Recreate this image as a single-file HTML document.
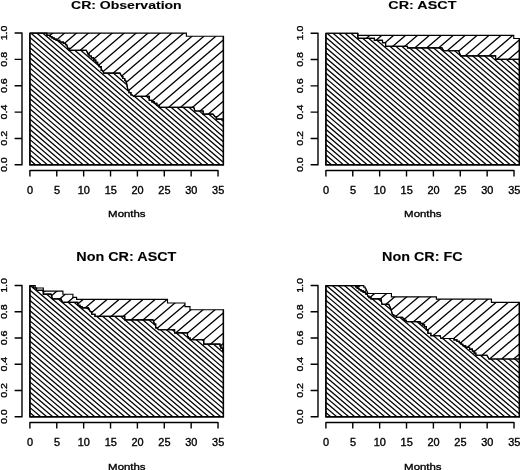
<!DOCTYPE html>
<html><head><meta charset="utf-8"><title>chart</title>
<style>html,body{margin:0;padding:0;background:#fff;}svg{display:block;filter:grayscale(1) blur(0.35px);}text{font-family:"Liberation Sans",sans-serif;fill:#000;stroke:#000;stroke-width:0.35px;vector-effect:non-scaling-stroke;}</style></head>
<body>
<svg width="520" height="470" viewBox="0 0 520 470">
<rect width="520" height="470" fill="#fff"/>
<defs><clipPath id="cl1"><polygon points="29.90,33.05 44.75,33.05 46.88,33.05 46.88,35.30 49.00,35.30 49.98,35.30 49.98,36.55 51.92,36.55 51.92,37.80 52.90,37.80 53.99,37.80 53.99,39.05 56.16,39.05 56.16,40.30 57.25,40.30 59.75,40.30 59.75,42.15 62.25,42.15 63.34,42.15 63.34,43.40 65.51,43.40 65.51,44.65 66.60,44.65 67.90,48.40 69.15,48.40 69.15,50.30 70.40,50.30 86.40,50.30 88.00,54.15 89.12,54.15 89.12,56.02 91.38,56.02 91.38,57.90 92.50,57.90 93.60,57.90 93.60,60.10 95.80,60.10 95.80,62.30 96.90,62.30 97.68,62.30 97.68,64.48 99.22,64.48 99.22,66.65 100.00,66.65 101.25,66.65 101.25,70.40 102.50,70.40 103.75,73.15 120.00,73.15 121.90,76.65 122.83,76.65 122.83,78.53 124.67,78.53 124.67,80.40 125.60,80.40 126.60,83.40 128.00,90.40 128.97,90.40 128.97,92.60 130.93,92.60 130.93,94.80 131.90,94.80 133.75,96.40 148.00,96.40 149.30,96.40 149.30,100.40 150.60,100.40 151.85,100.40 151.85,101.90 154.35,101.90 154.35,103.40 155.60,103.40 156.85,103.40 156.85,105.35 159.35,105.35 159.35,107.30 160.60,107.30 193.75,107.30 195.00,111.00 201.90,111.00 203.15,111.00 203.15,114.15 204.40,114.15 213.00,114.15 215.00,116.65 216.25,116.65 216.25,119.15 217.50,119.15 223.40,119.15 223.40,164.80 29.90,164.80"/></clipPath><clipPath id="cu1"><polygon points="29.90,33.05 186.40,33.05 186.40,36.20 223.40,36.20 223.40,119.15 217.50,119.15 216.25,119.15 216.25,116.65 215.00,116.65 213.00,114.15 204.40,114.15 203.15,114.15 203.15,111.00 201.90,111.00 195.00,111.00 193.75,107.30 160.60,107.30 159.35,107.30 159.35,105.35 156.85,105.35 156.85,103.40 155.60,103.40 154.35,103.40 154.35,101.90 151.85,101.90 151.85,100.40 150.60,100.40 149.30,100.40 149.30,96.40 148.00,96.40 133.75,96.40 131.90,94.80 130.93,94.80 130.93,92.60 128.97,92.60 128.97,90.40 128.00,90.40 126.60,83.40 125.60,80.40 124.67,80.40 124.67,78.53 122.83,78.53 122.83,76.65 121.90,76.65 120.00,73.15 103.75,73.15 102.50,70.40 101.25,70.40 101.25,66.65 100.00,66.65 99.22,66.65 99.22,64.48 97.68,64.48 97.68,62.30 96.90,62.30 95.80,62.30 95.80,60.10 93.60,60.10 93.60,57.90 92.50,57.90 91.38,57.90 91.38,56.02 89.12,56.02 89.12,54.15 88.00,54.15 86.40,50.30 70.40,50.30 69.15,50.30 69.15,48.40 67.90,48.40 66.60,44.65 65.51,44.65 65.51,43.40 63.34,43.40 63.34,42.15 62.25,42.15 59.75,42.15 59.75,40.30 57.25,40.30 56.16,40.30 56.16,39.05 53.99,39.05 53.99,37.80 52.90,37.80 51.92,37.80 51.92,36.55 49.98,36.55 49.98,35.30 49.00,35.30 46.88,35.30 46.88,33.05 44.75,33.05 29.90,33.05"/></clipPath></defs>
<path clip-path="url(#cl1)" d="M27.90 -143.06L225.40 26.20M27.90 -137.95L225.40 31.30M27.90 -132.85L225.40 36.41M27.90 -127.74L225.40 41.52M27.90 -122.63L225.40 46.62M27.90 -117.53L225.40 51.73M27.90 -112.42L225.40 56.84M27.90 -107.31L225.40 61.95M27.90 -102.20L225.40 67.05M27.90 -97.10L225.40 72.16M27.90 -91.99L225.40 77.27M27.90 -86.88L225.40 82.37M27.90 -81.78L225.40 87.48M27.90 -76.67L225.40 92.59M27.90 -71.56L225.40 97.69M27.90 -66.46L225.40 102.80M27.90 -61.35L225.40 107.91M27.90 -56.24L225.40 113.02M27.90 -51.13L225.40 118.12M27.90 -46.03L225.40 123.23M27.90 -40.92L225.40 128.34M27.90 -35.81L225.40 133.44M27.90 -30.71L225.40 138.55M27.90 -25.60L225.40 143.66M27.90 -20.49L225.40 148.76M27.90 -15.39L225.40 153.87M27.90 -10.28L225.40 158.98M27.90 -5.17L225.40 164.09M27.90 -0.06L225.40 169.19M27.90 5.04L225.40 174.30M27.90 10.15L225.40 179.41M27.90 15.26L225.40 184.51M27.90 20.36L225.40 189.62M27.90 25.47L225.40 194.73M27.90 30.58L225.40 199.83M27.90 35.68L225.40 204.94M27.90 40.79L225.40 210.05M27.90 45.90L225.40 215.16M27.90 51.01L225.40 220.26M27.90 56.11L225.40 225.37M27.90 61.22L225.40 230.48M27.90 66.33L225.40 235.58M27.90 71.43L225.40 240.69M27.90 76.54L225.40 245.80M27.90 81.65L225.40 250.90M27.90 86.75L225.40 256.01M27.90 91.86L225.40 261.12M27.90 96.97L225.40 266.23M27.90 102.08L225.40 271.33M27.90 107.18L225.40 276.44M27.90 112.29L225.40 281.55M27.90 117.40L225.40 286.65M27.90 122.50L225.40 291.76M27.90 127.61L225.40 296.87M27.90 132.72L225.40 301.97M27.90 137.82L225.40 307.08M27.90 142.93L225.40 312.19M27.90 148.04L225.40 317.30M27.90 153.15L225.40 322.40M27.90 158.25L225.40 327.51M27.90 163.36L225.40 332.62M27.90 168.47L225.40 337.72" stroke="#000" stroke-width="1.28" fill="none"/>
<path clip-path="url(#cu1)" d="M27.90 23.66L225.40 -145.60M27.90 33.87L225.40 -135.39M27.90 44.08L225.40 -125.17M27.90 54.30L225.40 -114.96M27.90 64.51L225.40 -104.75M27.90 74.73L225.40 -94.53M27.90 84.94L225.40 -84.32M27.90 95.15L225.40 -74.10M27.90 105.37L225.40 -63.89M27.90 115.58L225.40 -53.68M27.90 125.80L225.40 -43.46M27.90 136.01L225.40 -33.25M27.90 146.22L225.40 -23.03M27.90 156.44L225.40 -12.82M27.90 166.65L225.40 -2.61M27.90 176.87L225.40 7.61M27.90 187.08L225.40 17.82M27.90 197.29L225.40 28.04M27.90 207.51L225.40 38.25M27.90 217.72L225.40 48.46M27.90 227.94L225.40 58.68M27.90 238.15L225.40 68.89M27.90 248.36L225.40 79.11M27.90 258.58L225.40 89.32M27.90 268.79L225.40 99.53M27.90 279.01L225.40 109.75M27.90 289.22L225.40 119.96M27.90 299.43L225.40 130.18M27.90 309.65L225.40 140.39M27.90 319.86L225.40 150.60M27.90 330.08L225.40 160.82" stroke="#000" stroke-width="1.30" fill="none"/>
<polygon points="29.90,33.05 44.75,33.05 46.88,33.05 46.88,35.30 49.00,35.30 49.98,35.30 49.98,36.55 51.92,36.55 51.92,37.80 52.90,37.80 53.99,37.80 53.99,39.05 56.16,39.05 56.16,40.30 57.25,40.30 59.75,40.30 59.75,42.15 62.25,42.15 63.34,42.15 63.34,43.40 65.51,43.40 65.51,44.65 66.60,44.65 67.90,48.40 69.15,48.40 69.15,50.30 70.40,50.30 86.40,50.30 88.00,54.15 89.12,54.15 89.12,56.02 91.38,56.02 91.38,57.90 92.50,57.90 93.60,57.90 93.60,60.10 95.80,60.10 95.80,62.30 96.90,62.30 97.68,62.30 97.68,64.48 99.22,64.48 99.22,66.65 100.00,66.65 101.25,66.65 101.25,70.40 102.50,70.40 103.75,73.15 120.00,73.15 121.90,76.65 122.83,76.65 122.83,78.53 124.67,78.53 124.67,80.40 125.60,80.40 126.60,83.40 128.00,90.40 128.97,90.40 128.97,92.60 130.93,92.60 130.93,94.80 131.90,94.80 133.75,96.40 148.00,96.40 149.30,96.40 149.30,100.40 150.60,100.40 151.85,100.40 151.85,101.90 154.35,101.90 154.35,103.40 155.60,103.40 156.85,103.40 156.85,105.35 159.35,105.35 159.35,107.30 160.60,107.30 193.75,107.30 195.00,111.00 201.90,111.00 203.15,111.00 203.15,114.15 204.40,114.15 213.00,114.15 215.00,116.65 216.25,116.65 216.25,119.15 217.50,119.15 223.40,119.15 223.40,164.80 29.90,164.80" fill="none" stroke="#000" stroke-width="1.15" stroke-linejoin="miter"/>
<polygon points="29.90,33.05 186.40,33.05 186.40,36.20 223.40,36.20 223.40,119.15 217.50,119.15 216.25,119.15 216.25,116.65 215.00,116.65 213.00,114.15 204.40,114.15 203.15,114.15 203.15,111.00 201.90,111.00 195.00,111.00 193.75,107.30 160.60,107.30 159.35,107.30 159.35,105.35 156.85,105.35 156.85,103.40 155.60,103.40 154.35,103.40 154.35,101.90 151.85,101.90 151.85,100.40 150.60,100.40 149.30,100.40 149.30,96.40 148.00,96.40 133.75,96.40 131.90,94.80 130.93,94.80 130.93,92.60 128.97,92.60 128.97,90.40 128.00,90.40 126.60,83.40 125.60,80.40 124.67,80.40 124.67,78.53 122.83,78.53 122.83,76.65 121.90,76.65 120.00,73.15 103.75,73.15 102.50,70.40 101.25,70.40 101.25,66.65 100.00,66.65 99.22,66.65 99.22,64.48 97.68,64.48 97.68,62.30 96.90,62.30 95.80,62.30 95.80,60.10 93.60,60.10 93.60,57.90 92.50,57.90 91.38,57.90 91.38,56.02 89.12,56.02 89.12,54.15 88.00,54.15 86.40,50.30 70.40,50.30 69.15,50.30 69.15,48.40 67.90,48.40 66.60,44.65 65.51,44.65 65.51,43.40 63.34,43.40 63.34,42.15 62.25,42.15 59.75,42.15 59.75,40.30 57.25,40.30 56.16,40.30 56.16,39.05 53.99,39.05 53.99,37.80 52.90,37.80 51.92,37.80 51.92,36.55 49.98,36.55 49.98,35.30 49.00,35.30 46.88,35.30 46.88,33.05 44.75,33.05 29.90,33.05" fill="none" stroke="#000" stroke-width="1.15" stroke-linejoin="miter"/>
<path d="M29.90 33.05V164.80H223.40V36.20" fill="none" stroke="#000" stroke-width="1.45"/>
<path d="M22.00 33.05V164.80M22.55 164.80H14.60M22.55 138.45H14.60M22.55 112.10H14.60M22.55 85.75H14.60M22.55 59.40H14.60M22.55 33.05H14.60M29.90 170.45H218.03M29.90 169.90V176.45M56.77 169.90V176.45M83.65 169.90V176.45M110.53 169.90V176.45M137.40 169.90V176.45M164.28 169.90V176.45M191.15 169.90V176.45M218.03 169.90V176.45" stroke="#000" stroke-width="1.4" fill="none"/>
<text transform="translate(7.20 164.70) rotate(-90) scale(1.11 1)" font-size="9.6" text-anchor="middle">0.0</text>
<text transform="translate(7.20 138.35) rotate(-90) scale(1.11 1)" font-size="9.6" text-anchor="middle">0.2</text>
<text transform="translate(7.20 112.00) rotate(-90) scale(1.11 1)" font-size="9.6" text-anchor="middle">0.4</text>
<text transform="translate(7.20 85.65) rotate(-90) scale(1.11 1)" font-size="9.6" text-anchor="middle">0.6</text>
<text transform="translate(7.20 59.30) rotate(-90) scale(1.11 1)" font-size="9.6" text-anchor="middle">0.8</text>
<text transform="translate(7.20 32.95) rotate(-90) scale(1.11 1)" font-size="9.6" text-anchor="middle">1.0</text>
<text transform="translate(30.10 193.55) scale(1.075 1)" font-size="10.2" text-anchor="middle">0</text>
<text transform="translate(56.98 193.55) scale(1.075 1)" font-size="10.2" text-anchor="middle">5</text>
<text transform="translate(83.85 193.55) scale(1.075 1)" font-size="10.2" text-anchor="middle">10</text>
<text transform="translate(110.73 193.55) scale(1.075 1)" font-size="10.2" text-anchor="middle">15</text>
<text transform="translate(137.60 193.55) scale(1.075 1)" font-size="10.2" text-anchor="middle">20</text>
<text transform="translate(164.47 193.55) scale(1.075 1)" font-size="10.2" text-anchor="middle">25</text>
<text transform="translate(191.35 193.55) scale(1.075 1)" font-size="10.2" text-anchor="middle">30</text>
<text transform="translate(218.22 193.55) scale(1.075 1)" font-size="10.2" text-anchor="middle">35</text>
<text transform="translate(126.85 217.45) scale(1.19 1)" font-size="9.6" text-anchor="middle">Months</text>
<text transform="translate(126.35 8.70) scale(1.200 1)" font-size="11.7" font-weight="bold" style="stroke-width:0.12px" text-anchor="middle">CR: Observation</text>
<defs><clipPath id="cl2"><polygon points="325.90,33.20 357.50,33.20 358.00,38.40 374.40,38.40 374.40,40.30 382.50,40.30 382.50,42.55 385.60,42.55 385.60,46.30 407.50,46.30 407.50,47.80 441.90,47.80 443.75,50.70 458.75,50.70 460.60,55.90 495.60,55.90 495.60,59.40 519.40,59.40 519.40,164.80 325.90,164.80"/></clipPath><clipPath id="cu2"><polygon points="325.90,33.20 358.00,33.20 358.00,35.30 513.75,35.30 513.75,38.50 519.40,38.50 519.40,59.40 495.60,59.40 495.60,55.90 460.60,55.90 458.75,50.70 443.75,50.70 441.90,47.80 407.50,47.80 407.50,46.30 385.60,46.30 385.60,42.55 382.50,42.55 382.50,40.30 374.40,40.30 374.40,38.40 358.00,38.40 357.50,33.20 325.90,33.20"/></clipPath></defs>
<path clip-path="url(#cl2)" d="M323.90 -143.05L521.40 26.21M323.90 -137.94L521.40 31.32M323.90 -132.83L521.40 36.42M323.90 -127.73L521.40 41.53M323.90 -122.62L521.40 46.64M323.90 -117.51L521.40 51.74M323.90 -112.41L521.40 56.85M323.90 -107.30L521.40 61.96M323.90 -102.19L521.40 67.06M323.90 -97.09L521.40 72.17M323.90 -91.98L521.40 77.28M323.90 -86.87L521.40 82.39M323.90 -81.76L521.40 87.49M323.90 -76.66L521.40 92.60M323.90 -71.55L521.40 97.71M323.90 -66.44L521.40 102.81M323.90 -61.34L521.40 107.92M323.90 -56.23L521.40 113.03M323.90 -51.12L521.40 118.13M323.90 -46.02L521.40 123.24M323.90 -40.91L521.40 128.35M323.90 -35.80L521.40 133.46M323.90 -30.69L521.40 138.56M323.90 -25.59L521.40 143.67M323.90 -20.48L521.40 148.78M323.90 -15.37L521.40 153.88M323.90 -10.27L521.40 158.99M323.90 -5.16L521.40 164.10M323.90 -0.05L521.40 169.20M323.90 5.05L521.40 174.31M323.90 10.16L521.40 179.42M323.90 15.27L521.40 184.53M323.90 20.38L521.40 189.63M323.90 25.48L521.40 194.74M323.90 30.59L521.40 199.85M323.90 35.70L521.40 204.95M323.90 40.80L521.40 210.06M323.90 45.91L521.40 215.17M323.90 51.02L521.40 220.27M323.90 56.12L521.40 225.38M323.90 61.23L521.40 230.49M323.90 66.34L521.40 235.60M323.90 71.45L521.40 240.70M323.90 76.55L521.40 245.81M323.90 81.66L521.40 250.92M323.90 86.77L521.40 256.02M323.90 91.87L521.40 261.13M323.90 96.98L521.40 266.24M323.90 102.09L521.40 271.34M323.90 107.19L521.40 276.45M323.90 112.30L521.40 281.56M323.90 117.41L521.40 286.67M323.90 122.52L521.40 291.77M323.90 127.62L521.40 296.88M323.90 132.73L521.40 301.99M323.90 137.84L521.40 307.09M323.90 142.94L521.40 312.20M323.90 148.05L521.40 317.31M323.90 153.16L521.40 322.41M323.90 158.26L521.40 327.52M323.90 163.37L521.40 332.63M323.90 168.48L521.40 337.74" stroke="#000" stroke-width="1.28" fill="none"/>
<path clip-path="url(#cu2)" d="M323.90 23.65L521.40 -145.60M323.90 33.87L521.40 -135.39M323.90 44.08L521.40 -125.18M323.90 54.30L521.40 -114.96M323.90 64.51L521.40 -104.75M323.90 74.72L521.40 -94.53M323.90 84.94L521.40 -84.32M323.90 95.15L521.40 -74.11M323.90 105.37L521.40 -63.89M323.90 115.58L521.40 -53.68M323.90 125.79L521.40 -43.46M323.90 136.01L521.40 -33.25M323.90 146.22L521.40 -23.04M323.90 156.44L521.40 -12.82M323.90 166.65L521.40 -2.61M323.90 176.86L521.40 7.61M323.90 187.08L521.40 17.82M323.90 197.29L521.40 28.03M323.90 207.51L521.40 38.25M323.90 217.72L521.40 48.46M323.90 227.93L521.40 58.68M323.90 238.15L521.40 68.89M323.90 248.36L521.40 79.10M323.90 258.58L521.40 89.32M323.90 268.79L521.40 99.53M323.90 279.00L521.40 109.75M323.90 289.22L521.40 119.96M323.90 299.43L521.40 130.17M323.90 309.65L521.40 140.39M323.90 319.86L521.40 150.60M323.90 330.07L521.40 160.82" stroke="#000" stroke-width="1.30" fill="none"/>
<polygon points="325.90,33.20 357.50,33.20 358.00,38.40 374.40,38.40 374.40,40.30 382.50,40.30 382.50,42.55 385.60,42.55 385.60,46.30 407.50,46.30 407.50,47.80 441.90,47.80 443.75,50.70 458.75,50.70 460.60,55.90 495.60,55.90 495.60,59.40 519.40,59.40 519.40,164.80 325.90,164.80" fill="none" stroke="#000" stroke-width="1.15" stroke-linejoin="miter"/>
<polygon points="325.90,33.20 358.00,33.20 358.00,35.30 513.75,35.30 513.75,38.50 519.40,38.50 519.40,59.40 495.60,59.40 495.60,55.90 460.60,55.90 458.75,50.70 443.75,50.70 441.90,47.80 407.50,47.80 407.50,46.30 385.60,46.30 385.60,42.55 382.50,42.55 382.50,40.30 374.40,40.30 374.40,38.40 358.00,38.40 357.50,33.20 325.90,33.20" fill="none" stroke="#000" stroke-width="1.15" stroke-linejoin="miter"/>
<path d="M325.90 33.20V164.80H519.40V38.50" fill="none" stroke="#000" stroke-width="1.45"/>
<path d="M318.00 33.20V164.80M318.55 164.80H310.60M318.55 138.48H310.60M318.55 112.16H310.60M318.55 85.84H310.60M318.55 59.52H310.60M318.55 33.20H310.60M325.90 170.45H514.02M325.90 169.90V176.45M352.77 169.90V176.45M379.65 169.90V176.45M406.52 169.90V176.45M433.40 169.90V176.45M460.27 169.90V176.45M487.15 169.90V176.45M514.02 169.90V176.45" stroke="#000" stroke-width="1.4" fill="none"/>
<text transform="translate(303.20 164.70) rotate(-90) scale(1.11 1)" font-size="9.6" text-anchor="middle">0.0</text>
<text transform="translate(303.20 138.38) rotate(-90) scale(1.11 1)" font-size="9.6" text-anchor="middle">0.2</text>
<text transform="translate(303.20 112.06) rotate(-90) scale(1.11 1)" font-size="9.6" text-anchor="middle">0.4</text>
<text transform="translate(303.20 85.74) rotate(-90) scale(1.11 1)" font-size="9.6" text-anchor="middle">0.6</text>
<text transform="translate(303.20 59.42) rotate(-90) scale(1.11 1)" font-size="9.6" text-anchor="middle">0.8</text>
<text transform="translate(303.20 33.10) rotate(-90) scale(1.11 1)" font-size="9.6" text-anchor="middle">1.0</text>
<text transform="translate(326.10 193.55) scale(1.075 1)" font-size="10.2" text-anchor="middle">0</text>
<text transform="translate(352.97 193.55) scale(1.075 1)" font-size="10.2" text-anchor="middle">5</text>
<text transform="translate(379.85 193.55) scale(1.075 1)" font-size="10.2" text-anchor="middle">10</text>
<text transform="translate(406.72 193.55) scale(1.075 1)" font-size="10.2" text-anchor="middle">15</text>
<text transform="translate(433.60 193.55) scale(1.075 1)" font-size="10.2" text-anchor="middle">20</text>
<text transform="translate(460.47 193.55) scale(1.075 1)" font-size="10.2" text-anchor="middle">25</text>
<text transform="translate(487.35 193.55) scale(1.075 1)" font-size="10.2" text-anchor="middle">30</text>
<text transform="translate(514.23 193.55) scale(1.075 1)" font-size="10.2" text-anchor="middle">35</text>
<text transform="translate(422.85 217.45) scale(1.19 1)" font-size="9.6" text-anchor="middle">Months</text>
<text transform="translate(422.35 8.70) scale(1.230 1)" font-size="11.7" font-weight="bold" style="stroke-width:0.12px" text-anchor="middle">CR: ASCT</text>
<defs><clipPath id="cl3"><polygon points="29.90,285.55 33.50,285.55 33.50,288.00 36.50,288.00 36.50,290.30 43.30,290.30 43.30,294.10 51.00,294.10 52.50,298.90 61.00,298.90 62.50,302.30 76.60,302.30 77.80,302.30 77.80,305.30 79.00,305.30 80.00,305.30 80.00,306.60 82.00,306.60 82.00,307.90 83.00,307.90 88.50,307.90 90.40,311.70 91.70,311.70 91.70,314.20 93.00,314.20 95.00,314.20 95.00,316.30 97.00,316.30 124.75,316.30 124.75,319.80 153.00,319.80 154.40,324.05 155.70,324.05 155.70,327.80 157.00,327.80 158.50,329.70 174.60,329.70 174.60,332.90 187.50,332.90 187.50,336.55 188.38,336.55 188.38,338.12 190.12,338.12 190.12,339.70 191.00,339.70 203.75,339.70 203.75,344.05 220.00,344.05 220.00,345.80 220.88,345.80 220.88,348.05 222.62,348.05 222.62,350.30 223.40,350.30 223.40,416.80 29.90,416.80"/></clipPath><clipPath id="cu3"><polygon points="29.90,285.55 35.20,285.55 35.20,288.00 43.30,288.00 43.30,291.10 62.90,291.10 62.90,294.20 72.90,294.20 72.90,297.30 76.60,297.30 76.60,299.40 167.50,299.40 167.50,303.00 185.00,303.00 185.00,306.55 190.00,306.55 190.00,309.70 223.40,309.70 223.40,350.30 222.62,350.30 222.62,348.05 220.88,348.05 220.88,345.80 220.00,345.80 220.00,344.05 203.75,344.05 203.75,339.70 191.00,339.70 190.12,339.70 190.12,338.12 188.38,338.12 188.38,336.55 187.50,336.55 187.50,332.90 174.60,332.90 174.60,329.70 158.50,329.70 157.00,327.80 155.70,327.80 155.70,324.05 154.40,324.05 153.00,319.80 124.75,319.80 124.75,316.30 97.00,316.30 95.00,316.30 95.00,314.20 93.00,314.20 91.70,314.20 91.70,311.70 90.40,311.70 88.50,307.90 83.00,307.90 82.00,307.90 82.00,306.60 80.00,306.60 80.00,305.30 79.00,305.30 77.80,305.30 77.80,302.30 76.60,302.30 62.50,302.30 61.00,298.90 52.50,298.90 51.00,294.10 43.30,294.10 43.30,290.30 36.50,290.30 36.50,288.00 33.50,288.00 33.50,285.55 29.90,285.55"/></clipPath></defs>
<path clip-path="url(#cl3)" d="M27.90 110.00L225.40 277.87M27.90 115.09L225.40 282.97M27.90 120.19L225.40 288.07M27.90 125.29L225.40 293.17M27.90 130.39L225.40 298.27M27.90 135.49L225.40 303.37M27.90 140.59L225.40 308.47M27.90 145.69L225.40 313.57M27.90 150.79L225.40 318.67M27.90 155.89L225.40 323.77M27.90 160.99L225.40 328.87M27.90 166.09L225.40 333.97M27.90 171.19L225.40 339.07M27.90 176.29L225.40 344.17M27.90 181.39L225.40 349.27M27.90 186.49L225.40 354.37M27.90 191.59L225.40 359.47M27.90 196.69L225.40 364.57M27.90 201.79L225.40 369.67M27.90 206.89L225.40 374.77M27.90 211.99L225.40 379.87M27.90 217.09L225.40 384.97M27.90 222.19L225.40 390.07M27.90 227.29L225.40 395.17M27.90 232.39L225.40 400.27M27.90 237.49L225.40 405.37M27.90 242.59L225.40 410.47M27.90 247.69L225.40 415.57M27.90 252.79L225.40 420.67M27.90 257.89L225.40 425.77M27.90 262.99L225.40 430.87M27.90 268.09L225.40 435.97M27.90 273.19L225.40 441.07M27.90 278.29L225.40 446.17M27.90 283.39L225.40 451.27M27.90 288.49L225.40 456.37M27.90 293.59L225.40 461.47M27.90 298.69L225.40 466.57M27.90 303.79L225.40 471.67M27.90 308.89L225.40 476.77M27.90 313.99L225.40 481.87M27.90 319.09L225.40 486.97M27.90 324.19L225.40 492.07M27.90 329.30L225.40 497.17M27.90 334.40L225.40 502.27M27.90 339.50L225.40 507.37M27.90 344.60L225.40 512.47M27.90 349.70L225.40 517.57M27.90 354.80L225.40 522.67M27.90 359.90L225.40 527.77M27.90 365.00L225.40 532.87M27.90 370.10L225.40 537.97M27.90 375.20L225.40 543.07M27.90 380.30L225.40 548.17M27.90 385.40L225.40 553.27M27.90 390.50L225.40 558.37M27.90 395.60L225.40 563.47M27.90 400.70L225.40 568.57M27.90 405.80L225.40 573.67M27.90 410.90L225.40 578.77M27.90 416.00L225.40 583.87M27.90 421.10L225.40 588.97" stroke="#000" stroke-width="1.28" fill="none"/>
<path clip-path="url(#cu3)" d="M27.90 274.98L225.40 107.11M27.90 285.18L225.40 117.31M27.90 295.38L225.40 127.51M27.90 305.58L225.40 137.71M27.90 315.78L225.40 147.91M27.90 325.98L225.40 158.11M27.90 336.18L225.40 168.31M27.90 346.38L225.40 178.51M27.90 356.58L225.40 188.71M27.90 366.78L225.40 198.91M27.90 376.98L225.40 209.11M27.90 387.18L225.40 219.31M27.90 397.38L225.40 229.51M27.90 407.58L225.40 239.71M27.90 417.78L225.40 249.91M27.90 427.98L225.40 260.11M27.90 438.18L225.40 270.31M27.90 448.38L225.40 280.51M27.90 458.58L225.40 290.71M27.90 468.78L225.40 300.91M27.90 478.98L225.40 311.11M27.90 489.18L225.40 321.31M27.90 499.38L225.40 331.51M27.90 509.58L225.40 341.71M27.90 519.78L225.40 351.91M27.90 529.98L225.40 362.11M27.90 540.18L225.40 372.31M27.90 550.38L225.40 382.51M27.90 560.59L225.40 392.71M27.90 570.79L225.40 402.91M27.90 580.99L225.40 413.11" stroke="#000" stroke-width="1.30" fill="none"/>
<polygon points="29.90,285.55 33.50,285.55 33.50,288.00 36.50,288.00 36.50,290.30 43.30,290.30 43.30,294.10 51.00,294.10 52.50,298.90 61.00,298.90 62.50,302.30 76.60,302.30 77.80,302.30 77.80,305.30 79.00,305.30 80.00,305.30 80.00,306.60 82.00,306.60 82.00,307.90 83.00,307.90 88.50,307.90 90.40,311.70 91.70,311.70 91.70,314.20 93.00,314.20 95.00,314.20 95.00,316.30 97.00,316.30 124.75,316.30 124.75,319.80 153.00,319.80 154.40,324.05 155.70,324.05 155.70,327.80 157.00,327.80 158.50,329.70 174.60,329.70 174.60,332.90 187.50,332.90 187.50,336.55 188.38,336.55 188.38,338.12 190.12,338.12 190.12,339.70 191.00,339.70 203.75,339.70 203.75,344.05 220.00,344.05 220.00,345.80 220.88,345.80 220.88,348.05 222.62,348.05 222.62,350.30 223.40,350.30 223.40,416.80 29.90,416.80" fill="none" stroke="#000" stroke-width="1.15" stroke-linejoin="miter"/>
<polygon points="29.90,285.55 35.20,285.55 35.20,288.00 43.30,288.00 43.30,291.10 62.90,291.10 62.90,294.20 72.90,294.20 72.90,297.30 76.60,297.30 76.60,299.40 167.50,299.40 167.50,303.00 185.00,303.00 185.00,306.55 190.00,306.55 190.00,309.70 223.40,309.70 223.40,350.30 222.62,350.30 222.62,348.05 220.88,348.05 220.88,345.80 220.00,345.80 220.00,344.05 203.75,344.05 203.75,339.70 191.00,339.70 190.12,339.70 190.12,338.12 188.38,338.12 188.38,336.55 187.50,336.55 187.50,332.90 174.60,332.90 174.60,329.70 158.50,329.70 157.00,327.80 155.70,327.80 155.70,324.05 154.40,324.05 153.00,319.80 124.75,319.80 124.75,316.30 97.00,316.30 95.00,316.30 95.00,314.20 93.00,314.20 91.70,314.20 91.70,311.70 90.40,311.70 88.50,307.90 83.00,307.90 82.00,307.90 82.00,306.60 80.00,306.60 80.00,305.30 79.00,305.30 77.80,305.30 77.80,302.30 76.60,302.30 62.50,302.30 61.00,298.90 52.50,298.90 51.00,294.10 43.30,294.10 43.30,290.30 36.50,290.30 36.50,288.00 33.50,288.00 33.50,285.55 29.90,285.55" fill="none" stroke="#000" stroke-width="1.15" stroke-linejoin="miter"/>
<path d="M29.90 285.55V416.80H223.40V309.70" fill="none" stroke="#000" stroke-width="1.45"/>
<path d="M22.00 285.55V416.80M22.55 416.80H14.60M22.55 390.55H14.60M22.55 364.30H14.60M22.55 338.05H14.60M22.55 311.80H14.60M22.55 285.55H14.60M29.90 422.45H218.03M29.90 421.90V428.45M56.77 421.90V428.45M83.65 421.90V428.45M110.53 421.90V428.45M137.40 421.90V428.45M164.28 421.90V428.45M191.15 421.90V428.45M218.03 421.90V428.45" stroke="#000" stroke-width="1.4" fill="none"/>
<text transform="translate(7.20 416.70) rotate(-90) scale(1.11 1)" font-size="9.6" text-anchor="middle">0.0</text>
<text transform="translate(7.20 390.45) rotate(-90) scale(1.11 1)" font-size="9.6" text-anchor="middle">0.2</text>
<text transform="translate(7.20 364.20) rotate(-90) scale(1.11 1)" font-size="9.6" text-anchor="middle">0.4</text>
<text transform="translate(7.20 337.95) rotate(-90) scale(1.11 1)" font-size="9.6" text-anchor="middle">0.6</text>
<text transform="translate(7.20 311.70) rotate(-90) scale(1.11 1)" font-size="9.6" text-anchor="middle">0.8</text>
<text transform="translate(7.20 285.45) rotate(-90) scale(1.11 1)" font-size="9.6" text-anchor="middle">1.0</text>
<text transform="translate(30.10 446.35) scale(1.075 1)" font-size="10.2" text-anchor="middle">0</text>
<text transform="translate(56.98 446.35) scale(1.075 1)" font-size="10.2" text-anchor="middle">5</text>
<text transform="translate(83.85 446.35) scale(1.075 1)" font-size="10.2" text-anchor="middle">10</text>
<text transform="translate(110.73 446.35) scale(1.075 1)" font-size="10.2" text-anchor="middle">15</text>
<text transform="translate(137.60 446.35) scale(1.075 1)" font-size="10.2" text-anchor="middle">20</text>
<text transform="translate(164.47 446.35) scale(1.075 1)" font-size="10.2" text-anchor="middle">25</text>
<text transform="translate(191.35 446.35) scale(1.075 1)" font-size="10.2" text-anchor="middle">30</text>
<text transform="translate(218.22 446.35) scale(1.075 1)" font-size="10.2" text-anchor="middle">35</text>
<text transform="translate(126.85 469.90) scale(1.19 1)" font-size="9.6" text-anchor="middle">Months</text>
<text transform="translate(126.35 260.70) scale(1.170 1)" font-size="12.3" font-weight="bold" style="stroke-width:0.12px" text-anchor="middle">Non CR: ASCT</text>
<defs><clipPath id="cl4"><polygon points="325.90,285.55 355.00,285.55 355.75,285.55 355.75,286.90 357.25,286.90 357.25,288.30 358.00,288.30 359.00,288.30 359.00,289.55 361.00,289.55 361.00,290.80 362.00,290.80 363.25,290.80 363.25,292.30 365.75,292.30 365.75,293.80 367.00,293.80 368.00,296.30 369.00,296.30 369.00,297.55 371.00,297.55 371.00,298.80 372.00,298.80 381.00,298.80 382.00,304.30 388.75,304.30 390.60,308.30 392.50,314.70 393.75,314.70 393.75,315.95 396.25,315.95 396.25,317.20 397.50,317.20 402.50,317.20 403.75,319.05 404.56,319.05 404.56,320.30 406.19,320.30 406.19,321.55 407.00,321.55 418.75,321.55 420.00,321.55 420.00,323.30 421.25,323.30 422.34,323.30 422.34,324.93 424.51,324.93 424.51,326.55 425.60,326.55 426.39,326.55 426.39,329.93 427.96,329.93 427.96,333.30 428.75,333.30 430.88,333.30 430.88,335.70 433.00,335.70 440.20,335.70 441.00,338.50 452.50,338.50 454.00,338.50 454.00,339.90 457.00,339.90 457.00,341.30 458.50,341.30 459.37,341.30 459.37,342.77 461.10,342.77 461.10,344.23 462.83,344.23 462.83,345.70 463.70,345.70 465.65,345.70 465.65,347.40 469.55,347.40 469.55,349.10 471.50,349.10 472.37,349.10 472.37,351.13 474.10,351.13 474.10,353.17 475.83,353.17 475.83,355.20 476.70,355.20 487.00,355.20 489.00,359.00 519.40,359.00 519.40,416.80 325.90,416.80"/></clipPath><clipPath id="cu4"><polygon points="325.90,285.55 363.00,285.55 363.75,285.55 363.75,287.15 365.25,287.15 365.25,288.80 366.00,288.80 368.00,293.50 391.40,293.50 391.40,296.80 436.40,296.80 436.40,299.10 491.40,299.10 491.40,302.40 519.40,302.40 519.40,359.00 489.00,359.00 487.00,355.20 476.70,355.20 475.83,355.20 475.83,353.17 474.10,353.17 474.10,351.13 472.37,351.13 472.37,349.10 471.50,349.10 469.55,349.10 469.55,347.40 465.65,347.40 465.65,345.70 463.70,345.70 462.83,345.70 462.83,344.23 461.10,344.23 461.10,342.77 459.37,342.77 459.37,341.30 458.50,341.30 457.00,341.30 457.00,339.90 454.00,339.90 454.00,338.50 452.50,338.50 441.00,338.50 440.20,335.70 433.00,335.70 430.88,335.70 430.88,333.30 428.75,333.30 427.96,333.30 427.96,329.93 426.39,329.93 426.39,326.55 425.60,326.55 424.51,326.55 424.51,324.93 422.34,324.93 422.34,323.30 421.25,323.30 420.00,323.30 420.00,321.55 418.75,321.55 407.00,321.55 406.19,321.55 406.19,320.30 404.56,320.30 404.56,319.05 403.75,319.05 402.50,317.20 397.50,317.20 396.25,317.20 396.25,315.95 393.75,315.95 393.75,314.70 392.50,314.70 390.60,308.30 388.75,304.30 382.00,304.30 381.00,298.80 372.00,298.80 371.00,298.80 371.00,297.55 369.00,297.55 369.00,296.30 368.00,296.30 367.00,293.80 365.75,293.80 365.75,292.30 363.25,292.30 363.25,290.80 362.00,290.80 361.00,290.80 361.00,289.55 359.00,289.55 359.00,288.30 358.00,288.30 357.25,288.30 357.25,286.90 355.75,286.90 355.75,285.55 355.00,285.55 325.90,285.55"/></clipPath></defs>
<path clip-path="url(#cl4)" d="M323.90 110.00L521.40 277.87M323.90 115.09L521.40 282.97M323.90 120.19L521.40 288.07M323.90 125.29L521.40 293.17M323.90 130.39L521.40 298.27M323.90 135.49L521.40 303.37M323.90 140.59L521.40 308.47M323.90 145.69L521.40 313.57M323.90 150.79L521.40 318.67M323.90 155.89L521.40 323.77M323.90 160.99L521.40 328.87M323.90 166.09L521.40 333.97M323.90 171.19L521.40 339.07M323.90 176.29L521.40 344.17M323.90 181.39L521.40 349.27M323.90 186.49L521.40 354.37M323.90 191.59L521.40 359.47M323.90 196.69L521.40 364.57M323.90 201.79L521.40 369.67M323.90 206.89L521.40 374.77M323.90 211.99L521.40 379.87M323.90 217.09L521.40 384.97M323.90 222.19L521.40 390.07M323.90 227.29L521.40 395.17M323.90 232.39L521.40 400.27M323.90 237.49L521.40 405.37M323.90 242.59L521.40 410.47M323.90 247.69L521.40 415.57M323.90 252.79L521.40 420.67M323.90 257.89L521.40 425.77M323.90 262.99L521.40 430.87M323.90 268.09L521.40 435.97M323.90 273.19L521.40 441.07M323.90 278.29L521.40 446.17M323.90 283.39L521.40 451.27M323.90 288.49L521.40 456.37M323.90 293.59L521.40 461.47M323.90 298.69L521.40 466.57M323.90 303.79L521.40 471.67M323.90 308.89L521.40 476.77M323.90 313.99L521.40 481.87M323.90 319.09L521.40 486.97M323.90 324.19L521.40 492.07M323.90 329.29L521.40 497.17M323.90 334.39L521.40 502.27M323.90 339.49L521.40 507.37M323.90 344.59L521.40 512.47M323.90 349.69L521.40 517.57M323.90 354.79L521.40 522.67M323.90 359.89L521.40 527.77M323.90 364.99L521.40 532.87M323.90 370.09L521.40 537.97M323.90 375.19L521.40 543.07M323.90 380.29L521.40 548.17M323.90 385.39L521.40 553.27M323.90 390.49L521.40 558.37M323.90 395.59L521.40 563.47M323.90 400.69L521.40 568.57M323.90 405.79L521.40 573.67M323.90 410.89L521.40 578.77M323.90 415.99L521.40 583.87M323.90 421.09L521.40 588.97" stroke="#000" stroke-width="1.28" fill="none"/>
<path clip-path="url(#cu4)" d="M323.90 275.43L521.40 107.56M323.90 285.63L521.40 117.76M323.90 295.83L521.40 127.96M323.90 306.04L521.40 138.16M323.90 316.24L521.40 148.36M323.90 326.44L521.40 158.56M323.90 336.64L521.40 168.76M323.90 346.84L521.40 178.96M323.90 357.04L521.40 189.16M323.90 367.24L521.40 199.36M323.90 377.44L521.40 209.56M323.90 387.64L521.40 219.76M323.90 397.84L521.40 229.96M323.90 408.04L521.40 240.16M323.90 418.24L521.40 250.36M323.90 428.44L521.40 260.56M323.90 438.64L521.40 270.76M323.90 448.84L521.40 280.96M323.90 459.04L521.40 291.16M323.90 469.24L521.40 301.36M323.90 479.44L521.40 311.56M323.90 489.64L521.40 321.76M323.90 499.84L521.40 331.96M323.90 510.04L521.40 342.16M323.90 520.24L521.40 352.36M323.90 530.44L521.40 362.56M323.90 540.64L521.40 372.76M323.90 550.84L521.40 382.96M323.90 561.04L521.40 393.16M323.90 571.24L521.40 403.36M323.90 581.44L521.40 413.56" stroke="#000" stroke-width="1.30" fill="none"/>
<polygon points="325.90,285.55 355.00,285.55 355.75,285.55 355.75,286.90 357.25,286.90 357.25,288.30 358.00,288.30 359.00,288.30 359.00,289.55 361.00,289.55 361.00,290.80 362.00,290.80 363.25,290.80 363.25,292.30 365.75,292.30 365.75,293.80 367.00,293.80 368.00,296.30 369.00,296.30 369.00,297.55 371.00,297.55 371.00,298.80 372.00,298.80 381.00,298.80 382.00,304.30 388.75,304.30 390.60,308.30 392.50,314.70 393.75,314.70 393.75,315.95 396.25,315.95 396.25,317.20 397.50,317.20 402.50,317.20 403.75,319.05 404.56,319.05 404.56,320.30 406.19,320.30 406.19,321.55 407.00,321.55 418.75,321.55 420.00,321.55 420.00,323.30 421.25,323.30 422.34,323.30 422.34,324.93 424.51,324.93 424.51,326.55 425.60,326.55 426.39,326.55 426.39,329.93 427.96,329.93 427.96,333.30 428.75,333.30 430.88,333.30 430.88,335.70 433.00,335.70 440.20,335.70 441.00,338.50 452.50,338.50 454.00,338.50 454.00,339.90 457.00,339.90 457.00,341.30 458.50,341.30 459.37,341.30 459.37,342.77 461.10,342.77 461.10,344.23 462.83,344.23 462.83,345.70 463.70,345.70 465.65,345.70 465.65,347.40 469.55,347.40 469.55,349.10 471.50,349.10 472.37,349.10 472.37,351.13 474.10,351.13 474.10,353.17 475.83,353.17 475.83,355.20 476.70,355.20 487.00,355.20 489.00,359.00 519.40,359.00 519.40,416.80 325.90,416.80" fill="none" stroke="#000" stroke-width="1.15" stroke-linejoin="miter"/>
<polygon points="325.90,285.55 363.00,285.55 363.75,285.55 363.75,287.15 365.25,287.15 365.25,288.80 366.00,288.80 368.00,293.50 391.40,293.50 391.40,296.80 436.40,296.80 436.40,299.10 491.40,299.10 491.40,302.40 519.40,302.40 519.40,359.00 489.00,359.00 487.00,355.20 476.70,355.20 475.83,355.20 475.83,353.17 474.10,353.17 474.10,351.13 472.37,351.13 472.37,349.10 471.50,349.10 469.55,349.10 469.55,347.40 465.65,347.40 465.65,345.70 463.70,345.70 462.83,345.70 462.83,344.23 461.10,344.23 461.10,342.77 459.37,342.77 459.37,341.30 458.50,341.30 457.00,341.30 457.00,339.90 454.00,339.90 454.00,338.50 452.50,338.50 441.00,338.50 440.20,335.70 433.00,335.70 430.88,335.70 430.88,333.30 428.75,333.30 427.96,333.30 427.96,329.93 426.39,329.93 426.39,326.55 425.60,326.55 424.51,326.55 424.51,324.93 422.34,324.93 422.34,323.30 421.25,323.30 420.00,323.30 420.00,321.55 418.75,321.55 407.00,321.55 406.19,321.55 406.19,320.30 404.56,320.30 404.56,319.05 403.75,319.05 402.50,317.20 397.50,317.20 396.25,317.20 396.25,315.95 393.75,315.95 393.75,314.70 392.50,314.70 390.60,308.30 388.75,304.30 382.00,304.30 381.00,298.80 372.00,298.80 371.00,298.80 371.00,297.55 369.00,297.55 369.00,296.30 368.00,296.30 367.00,293.80 365.75,293.80 365.75,292.30 363.25,292.30 363.25,290.80 362.00,290.80 361.00,290.80 361.00,289.55 359.00,289.55 359.00,288.30 358.00,288.30 357.25,288.30 357.25,286.90 355.75,286.90 355.75,285.55 355.00,285.55 325.90,285.55" fill="none" stroke="#000" stroke-width="1.15" stroke-linejoin="miter"/>
<path d="M325.90 285.55V416.80H519.40V302.40" fill="none" stroke="#000" stroke-width="1.45"/>
<path d="M318.00 285.55V416.80M318.55 416.80H310.60M318.55 390.55H310.60M318.55 364.30H310.60M318.55 338.05H310.60M318.55 311.80H310.60M318.55 285.55H310.60M325.90 422.45H514.02M325.90 421.90V428.45M352.77 421.90V428.45M379.65 421.90V428.45M406.52 421.90V428.45M433.40 421.90V428.45M460.27 421.90V428.45M487.15 421.90V428.45M514.02 421.90V428.45" stroke="#000" stroke-width="1.4" fill="none"/>
<text transform="translate(303.20 416.70) rotate(-90) scale(1.11 1)" font-size="9.6" text-anchor="middle">0.0</text>
<text transform="translate(303.20 390.45) rotate(-90) scale(1.11 1)" font-size="9.6" text-anchor="middle">0.2</text>
<text transform="translate(303.20 364.20) rotate(-90) scale(1.11 1)" font-size="9.6" text-anchor="middle">0.4</text>
<text transform="translate(303.20 337.95) rotate(-90) scale(1.11 1)" font-size="9.6" text-anchor="middle">0.6</text>
<text transform="translate(303.20 311.70) rotate(-90) scale(1.11 1)" font-size="9.6" text-anchor="middle">0.8</text>
<text transform="translate(303.20 285.45) rotate(-90) scale(1.11 1)" font-size="9.6" text-anchor="middle">1.0</text>
<text transform="translate(326.10 446.35) scale(1.075 1)" font-size="10.2" text-anchor="middle">0</text>
<text transform="translate(352.97 446.35) scale(1.075 1)" font-size="10.2" text-anchor="middle">5</text>
<text transform="translate(379.85 446.35) scale(1.075 1)" font-size="10.2" text-anchor="middle">10</text>
<text transform="translate(406.72 446.35) scale(1.075 1)" font-size="10.2" text-anchor="middle">15</text>
<text transform="translate(433.60 446.35) scale(1.075 1)" font-size="10.2" text-anchor="middle">20</text>
<text transform="translate(460.47 446.35) scale(1.075 1)" font-size="10.2" text-anchor="middle">25</text>
<text transform="translate(487.35 446.35) scale(1.075 1)" font-size="10.2" text-anchor="middle">30</text>
<text transform="translate(514.23 446.35) scale(1.075 1)" font-size="10.2" text-anchor="middle">35</text>
<text transform="translate(422.85 469.90) scale(1.19 1)" font-size="9.6" text-anchor="middle">Months</text>
<text transform="translate(422.35 260.70) scale(1.170 1)" font-size="12.3" font-weight="bold" style="stroke-width:0.12px" text-anchor="middle">Non CR: FC</text>
</svg>
</body></html>
